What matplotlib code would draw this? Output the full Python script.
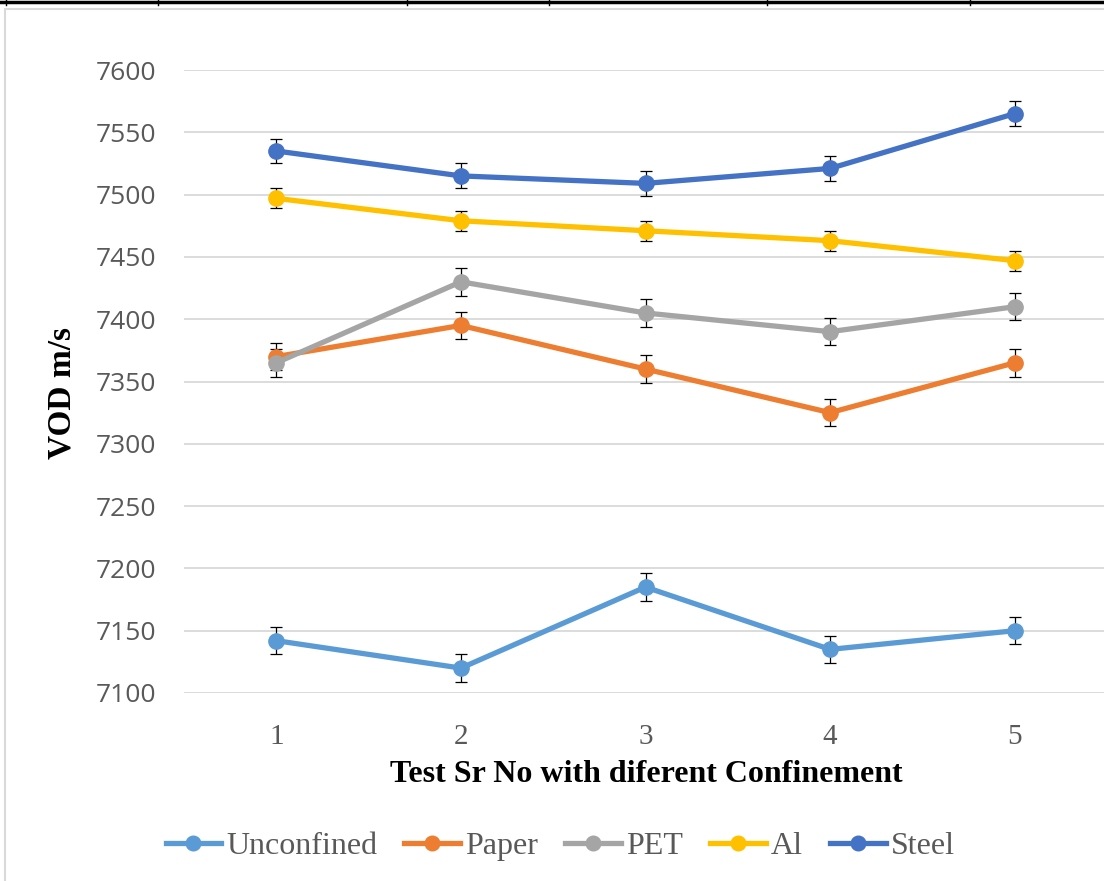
import matplotlib
matplotlib.use('Agg')
import matplotlib.pyplot as plt
from matplotlib.lines import Line2D
from matplotlib.patches import Rectangle

# VOD measurements for each confinement type, tests 1..5
tests = [1, 2, 3, 4, 5]
labels = ['Unconfined', 'Paper', 'PET', 'Al', 'Steel']
unconfined = [7142, 7120, 7185, 7135, 7150]
paper      = [7370, 7395, 7360, 7325, 7365]
pet        = [7365, 7430, 7405, 7390, 7410]
al         = [7497, 7479, 7471, 7463, 7447]
steel      = [7535, 7515, 7509, 7521, 7565]
errs       = [11, 11, 11, 8, 10]
colors     = ['#5B9BD5', '#ED7D31', '#A5A5A5', '#FFC000', '#4472C4']

W, H = 1104, 881
fig = plt.figure(figsize=(W / 100, H / 100), dpi=100)

# left = 184px, plot spans 7600 at y=70 down to 7100 at y=693
ax = fig.add_axes([184 / W, 1 - 693 / H, 923 / W, 623 / H])

series = [unconfined, paper, pet, al, steel]
for vals, lab, col, e in zip(series, labels, colors, errs):
    ax.errorbar(tests, vals, yerr=e, fmt='none', ecolor='black',
                elinewidth=0.9, capsize=4.5, capthick=0.9, zorder=2)
    ax.plot(tests, vals, color=col, lw=3.8, marker='o', ms=11,
            solid_capstyle='round', label=lab, zorder=3)

ax.set_xlim(0.5, 5.5)
ax.set_ylim(7100, 7600)
ax.set_yticks(range(7100, 7601, 50))
ax.set_xticks(tests)
ax.grid(axis='y', color='#D9D9D9', lw=1.3, zorder=0)
for s in ax.spines.values():
    s.set_visible(False)
ax.tick_params(axis='both', length=0)
ax.tick_params(axis='y', pad=20, labelsize=19, labelcolor='#595959')
ax.tick_params(axis='x', pad=22, labelsize=21, labelcolor='#595959')
for t in ax.get_yticklabels():
    t.set_fontfamily('Open Sans')
for t in ax.get_xticklabels():
    t.set_fontfamily('Liberation Serif')

fig.text(62 / W, 1 - 393 / H, 'VOD m/s', rotation=90, ha='center', va='center',
         family='Liberation Serif', fontweight='bold', fontsize=24)
fig.text(646 / W, 1 - 775 / H, 'Test Sr No with diferent Confinement',
         ha='center', va='center', family='Liberation Serif',
         fontweight='bold', fontsize=23)

handles = [Line2D([], [], color=c, lw=3.8, marker='o', ms=10.5) for c in colors]
leg = fig.legend(handles, labels, loc='center', bbox_to_anchor=(560 / W, 1 - 846 / H),
                 ncol=5, frameon=False, handlelength=1.75, handletextpad=0.15,
                 columnspacing=0.85, prop={'family': 'Liberation Serif', 'size': 23})
for t in leg.get_texts():
    t.set_color('#595959')

# outer chart border and the table rule above it
fig.patches.append(Rectangle((5.5 / W, -0.01), 1.2, 1 - 9 / H + 0.01,
                             transform=fig.transFigure, fill=False,
                             ec='#D9D9D9', lw=1.5))
fig.add_artist(Line2D([0, 1], [1 - 1.5 / H] * 2, color='black', lw=2.5,
                      transform=fig.transFigure))
for xv in [5.6, 158, 407, 549, 767, 970]:
    fig.add_artist(Line2D([xv / W] * 2, [1, 1 - 5 / H], color='black', lw=1,
                          transform=fig.transFigure))

fig.savefig('out.png', dpi=100)
